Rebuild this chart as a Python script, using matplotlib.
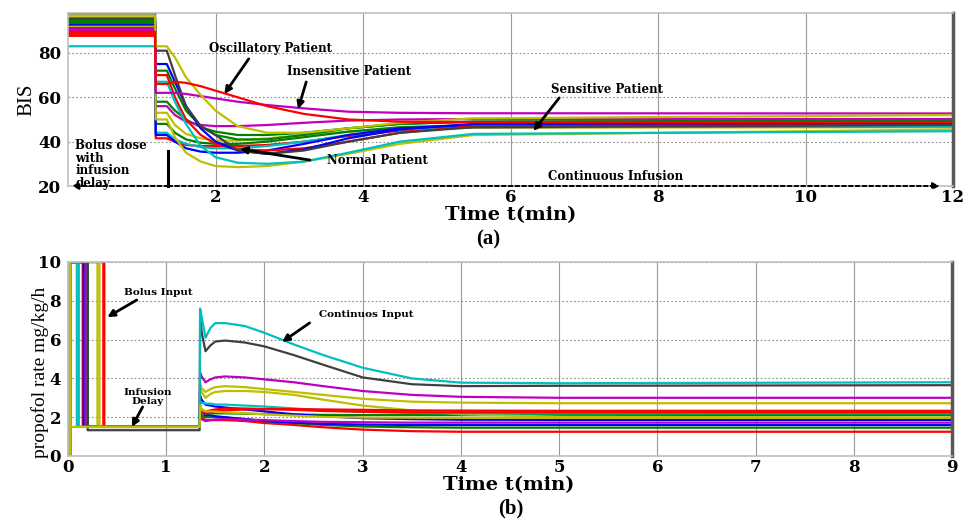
import matplotlib
matplotlib.use('Agg')
import matplotlib.pyplot as plt

# MATLAB-style line colours
C_B = (0, 0, 1)
C_G = (0, 0.5, 0)
C_R = (1, 0, 0)
C_C = (0, 0.75, 0.75)
C_M = (0.75, 0, 0.75)
C_Y = (0.75, 0.75, 0)
C_K = (0.25, 0.25, 0.25)

# ---- (a) BIS response, time in minutes ----
t_bis = [0, 1.18, 1.19, 1.34, 1.45, 1.6, 1.8, 2.0, 2.3, 2.7, 3.2, 3.8, 4.5, 5.5, 12]
bis_blue     = [97.8, 97.8, 75, 75, 67, 56, 46, 40, 36, 34.5, 36.5, 41.5, 45.5, 48, 48.5]
bis_yellow   = [96.9, 96.9, 83, 83, 78, 69, 61, 54, 47, 44, 44, 46, 48.5, 50.5, 52]
bis_yellow2  = [96.0, 96.0, 53, 53, 47.5, 43.5, 41.5, 40.5, 40.5, 41.5, 43, 44.5, 45.5, 46.3, 46.5]
bis_green    = [94.8, 94.8, 48, 48, 44, 41, 39.5, 39, 39, 40, 42, 44.5, 46.5, 47.5, 48]
bis_gray     = [95.5, 95.5, 81, 81, 70, 56, 47, 43, 36, 34.5, 36, 40, 44, 46.5, 47.5]
bis_dkgreen  = [93.9, 93.9, 72, 72, 64, 54, 47, 43, 41, 41, 43, 46, 48, 49, 49.5]
bis_green2   = [93.0, 93.0, 58, 58, 54, 50, 46.5, 44.5, 43, 43, 44, 46, 48, 49, 49.5]
bis_magenta  = [91.2, 91.2, 62, 62, 62, 61.5, 60.5, 59.5, 58, 56.5, 55, 53.5, 53, 52.8, 52.7]
bis_magenta2 = [90.4, 90.4, 56, 56, 52, 49, 47.5, 47, 47, 47.5, 48.5, 49.5, 50, 50.2, 50.2]
bis_red      = [89.5, 89.5, 66, 66, 67, 66.5, 65, 63, 60, 56, 52.5, 50, 49, 48.8, 48.8]
bis_red2     = [88.6, 88.6, 70, 70, 60, 50, 43, 39, 36.5, 36, 37, 40, 44, 47, 48.5]
bis_red3     = [87.7, 87.7, 41.5, 41.5, 40, 38.5, 38, 38, 38, 38.5, 40, 42.5, 45, 46.5, 47]
bis_cyan     = [83.0, 83.0, 67, 67, 58, 48, 38, 33, 30.5, 30, 31, 35, 40, 43.5, 44.7]
bis_cyan2    = [92.1, 92.1, 44, 44, 41, 39, 37.5, 37, 37, 38, 40, 43, 45.5, 46.5, 47]
bis_blue2    = [92.5, 92.5, 43, 43, 40, 37, 35.5, 35, 35, 36, 39, 43, 46, 47.5, 48]
bis_yellow3  = [91.8, 91.8, 50, 50, 42, 35, 31, 29, 28.5, 29, 31, 34.5, 39, 43, 45.5]

bis_series = [
    (bis_yellow2, C_Y), (bis_green, C_G), (bis_dkgreen, C_G), (bis_green2, C_G),
    (bis_magenta2, C_M), (bis_red3, C_R), (bis_cyan2, C_C), (bis_blue2, C_B),
    (bis_red2, C_R), (bis_blue, C_B), (bis_yellow3, C_Y), (bis_cyan, C_C),
    (bis_gray, C_K), (bis_magenta, C_M), (bis_yellow, C_Y), (bis_red, C_R),
]

# ---- (b) propofol rate ----
t_rate = [1.34, 1.345, 1.36, 1.4, 1.45, 1.5, 1.6, 1.8, 2.0, 2.3, 2.6, 3.0, 3.5, 4.0, 5.0, 9.0]
# (bolus end time, values from 1.34 min on; first value = infusion delay level)
rate_cyan     = (0.11, [1.5, 7.6, 7.2, 6.1, 6.6, 6.85, 6.85, 6.7, 6.35, 5.75, 5.2, 4.55, 4.0, 3.78, 3.75, 3.8])
rate_gray     = (0.20, [1.33, 7.2, 6.4, 5.4, 5.7, 5.9, 5.95, 5.85, 5.65, 5.2, 4.7, 4.05, 3.7, 3.6, 3.62, 3.65])
rate_magenta  = (0.18, [1.5, 4.3, 4.1, 3.8, 3.95, 4.05, 4.1, 4.05, 3.95, 3.8, 3.6, 3.35, 3.15, 3.05, 3.0, 3.0])
rate_yellow   = (0.32, [1.5, 3.7, 3.5, 3.3, 3.45, 3.55, 3.6, 3.55, 3.45, 3.3, 3.15, 2.95, 2.8, 2.75, 2.72, 2.72])
rate_yellow2  = (0.30, [1.5, 3.5, 3.3, 3.0, 3.2, 3.3, 3.35, 3.35, 3.3, 3.15, 2.9, 2.6, 2.35, 2.15, 2.02, 1.98])
rate_blue     = (0.16, [1.5, 3.1, 2.9, 2.65, 2.6, 2.55, 2.5, 2.4, 2.3, 2.15, 2.05, 1.95, 1.9, 1.87, 1.86, 1.86])
rate_cyan2    = (0.09, [1.5, 2.8, 2.75, 2.7, 2.7, 2.65, 2.65, 2.6, 2.55, 2.45, 2.35, 2.28, 2.22, 2.2, 2.2, 2.2])
rate_red      = (0.37, [1.5, 2.5, 2.3, 2.2, 2.25, 2.3, 2.35, 2.4, 2.42, 2.42, 2.4, 2.38, 2.35, 2.34, 2.33, 2.33])
rate_green    = (0.20, [1.5, 2.4, 2.3, 2.2, 2.2, 2.2, 2.2, 2.18, 2.16, 2.14, 2.12, 2.11, 2.11, 2.11, 2.11, 2.11])
rate_magenta2 = (0.19, [1.5, 2.0, 1.9, 1.8, 1.85, 1.88, 1.9, 1.88, 1.85, 1.8, 1.76, 1.74, 1.72, 1.72, 1.72, 1.72])
rate_red2     = (0.15, [1.5, 2.2, 2.0, 1.85, 1.85, 1.85, 1.85, 1.8, 1.7, 1.6, 1.48, 1.36, 1.28, 1.25, 1.25, 1.25])
rate_green2   = (0.20, [1.5, 2.3, 2.1, 2.0, 2.0, 2.0, 1.98, 1.9, 1.8, 1.7, 1.6, 1.52, 1.48, 1.46, 1.46, 1.46])
rate_blue2    = (0.18, [1.5, 2.5, 2.3, 2.1, 2.1, 2.05, 2.0, 1.9, 1.8, 1.72, 1.66, 1.62, 1.6, 1.6, 1.6, 1.6])
rate_red3     = (0.36, [1.5, 2.6, 2.4, 2.3, 2.35, 2.4, 2.45, 2.45, 2.42, 2.38, 2.32, 2.28, 2.25, 2.25, 2.25, 2.25])
rate_yellow3  = (0.02, [1.5, 2.6, 2.4, 2.3, 2.3, 2.28, 2.25, 2.2, 2.15, 2.08, 2.02, 1.98, 1.97, 1.97, 1.97, 1.97])

rate_series = [
    (rate_red2, C_R), (rate_green2, C_G), (rate_blue2, C_B), (rate_magenta2, C_M),
    (rate_green, C_G), (rate_yellow2, C_Y), (rate_blue, C_B), (rate_cyan2, C_C),
    (rate_red3, C_R), (rate_red, C_R), (rate_yellow, C_Y), (rate_magenta, C_M),
    (rate_gray, C_K), (rate_cyan, C_C), (rate_yellow3, C_Y),
]
bolus_start = 0.02
bolus_level = 10

plt.rcParams['font.family'] = 'DejaVu Serif'
plt.rcParams['font.weight'] = 'bold'

W, H = 974, 520
fig = plt.figure(figsize=(W / 100, H / 100), dpi=100)
ax1 = fig.add_axes([68 / W, 1 - 186 / H, 885 / W, 173 / H])
ax2 = fig.add_axes([68 / W, 1 - 456 / H, 884 / W, 194 / H])

for vals, col in bis_series:
    ax1.plot(t_bis, vals, color=col, lw=1.6)

for (td, vals), col in rate_series:
    xs = [bolus_start, bolus_start, td, td] + t_rate
    ys = [0, bolus_level, bolus_level, vals[0]] + vals
    ax2.plot(xs, ys, color=col, lw=1.6)

for ax in (ax1, ax2):
    ax.tick_params(length=0, labelsize=12)
    for lab in ax.get_xticklabels() + ax.get_yticklabels():
        lab.set_fontweight('bold')
    ax.xaxis.grid(True, color='0.6', lw=0.8, ls='-')
    ax.yaxis.grid(True, color='0.55', lw=0.8, ls=(0, (1.5, 2)))
    ax.set_axisbelow(True)
    for s in ('top', 'left', 'bottom'):
        ax.spines[s].set_color('0.75')
        ax.spines[s].set_linewidth(1.2)
    ax.spines['right'].set_color('0.35')
    ax.spines['right'].set_linewidth(2.5)

ax1.set_xlim(0, 12)
ax1.set_ylim(20, 98)
ax1.set_xticks([2, 4, 6, 8, 10, 12])
ax1.set_yticks([20, 40, 60, 80])
ax1.tick_params(axis='x', pad=2)
ax1.tick_params(axis='y', pad=5)

ax2.set_xlim(0, 9)
ax2.set_ylim(0, 10)
ax2.set_xticks(range(0, 10))
ax2.set_yticks([0, 2, 4, 6, 8, 10])
ax2.tick_params(axis='x', pad=2)
ax2.tick_params(axis='y', pad=5)

ax1.set_xlabel('Time t(min)', fontsize=14, fontweight='bold', va='top')
ax1.xaxis.set_label_coords(0.5, -0.115)
ax2.set_xlabel('Time t(min)', fontsize=14, fontweight='bold', va='top')
ax2.xaxis.set_label_coords(0.498, -0.105)

ax1.set_ylabel('BIS', family='Liberation Serif', fontweight='normal', fontsize=15)
ax1.yaxis.set_label_coords(-0.036, 0.5)
ax2.set_ylabel('propofol rate mg/kg/h', family='Liberation Serif', fontweight='normal', fontsize=14)
ax2.yaxis.set_label_coords(-0.022, 0.43)

fig.text(488 / W, 1 - 239 / H, '(a)', family='Liberation Serif', fontsize=15, fontweight='bold',
         ha='center', va='center')
fig.text(511 / W, 1 - 508 / H, '(b)', family='Liberation Serif', fontsize=15, fontweight='bold',
         ha='center', va='center')

arrow = dict(arrowstyle='-|>', color='black', lw=2, mutation_scale=10, shrinkA=0, shrinkB=0)
fs_a = 8.5

ax1.annotate('', xy=(2.12, 61.5), xytext=(2.45, 77.3), arrowprops=arrow)
ax1.text(2.74, 82.2, 'Oscillatory Patient', fontsize=fs_a, ha='center', va='center')
ax1.annotate('', xy=(3.12, 54.7), xytext=(3.23, 66.9), arrowprops=arrow)
ax1.text(3.81, 71.4, 'Insensitive Patient', fontsize=fs_a, ha='center', va='center')
ax1.annotate('', xy=(6.31, 44.8), xytext=(6.66, 59.7), arrowprops=arrow)
ax1.text(7.31, 63.7, 'Sensitive Patient', fontsize=fs_a, ha='center', va='center')
ax1.annotate('', xy=(2.33, 36.7), xytext=(3.28, 31.7), arrowprops=arrow)
ax1.text(4.19, 31.3, 'Normal Patient', fontsize=fs_a, ha='center', va='center')
ax1.text(0.1, 29.6, 'Bolus dose\nwith\ninfusion\ndelay', fontsize=fs_a, ha='left', va='center',
         linespacing=0.95)
ax1.text(7.42, 24.1, 'Continuous Infusion', fontsize=fs_a, ha='center', va='center')

dotted = dict(arrowstyle='-|>', color='black', lw=1.4, ls=(0, (2, 1.5)), mutation_scale=10,
              shrinkA=0, shrinkB=0)
ax1.annotate('', xy=(11.82, 20), xytext=(1.36, 20), arrowprops=dotted, annotation_clip=False)
ax1.annotate('', xy=(0.05, 20), xytext=(1.36, 20), arrowprops=dotted, annotation_clip=False)
ax1.plot([1.36, 1.36], [20, 36], color='black', lw=2.2, clip_on=False)

fs_b = 7.5
ax2.annotate('', xy=(0.40, 7.16), xytext=(0.70, 8.04), arrowprops=arrow)
ax2.text(0.92, 8.45, 'Bolus Input', fontsize=fs_b, ha='center', va='center')
ax2.annotate('', xy=(0.65, 1.5), xytext=(0.76, 2.53), arrowprops=arrow)
ax2.text(0.81, 3.04, 'Infusion\nDelay', fontsize=fs_b, ha='center', va='center', linespacing=1.0)
ax2.annotate('', xy=(2.18, 5.88), xytext=(2.46, 6.86), arrowprops=arrow)
ax2.text(3.04, 7.27, 'Continuos Input', fontsize=fs_b, ha='center', va='center')

fig.savefig('out.png', dpi=100)
